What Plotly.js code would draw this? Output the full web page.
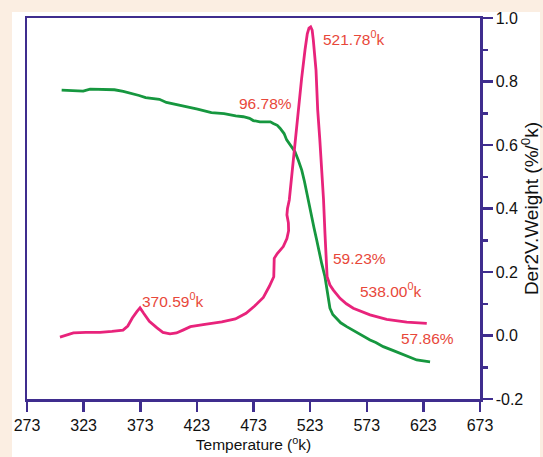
<!DOCTYPE html>
<html>
<head>
<meta charset="utf-8">
<script src="https://cdn.plot.ly/plotly-3.0.1.min.js"></script>
<style>
html,body{margin:0;padding:0;background:#fbeee2;}
#chart{width:543px;height:457px;}
</style>
</head>
<body>
<div id="chart"></div>
<script>
// Der2V.Weight curve (pink)
var derTemp = [302.1, 306, 314, 325, 337.5, 348, 357.8, 362, 366, 370, 372.8, 376, 381, 387.8, 393, 399.3, 405, 410.7, 417.3, 430, 445, 457, 466.4, 474, 481.7, 487, 490.9, 491.3, 494, 499.3, 502.5, 504, 503.8, 502.5, 503.0, 504.6, 508.5, 512, 515.5, 518.5, 520.5, 522, 523.5, 524.8, 525.8, 528.2, 529.7, 531.5, 533.2, 534.8, 536.1, 537.2, 538, 540.5, 543.5, 549.4, 555, 561.1, 568, 575.9, 590.6, 608.3, 626];
var derValue = [-0.005, 0.0, 0.008, 0.010, 0.010, 0.013, 0.017, 0.030, 0.055, 0.075, 0.087, 0.070, 0.045, 0.024, 0.010, 0.005, 0.008, 0.017, 0.028, 0.035, 0.043, 0.052, 0.070, 0.093, 0.120, 0.155, 0.185, 0.243, 0.258, 0.280, 0.305, 0.330, 0.355, 0.380, 0.400, 0.427, 0.570, 0.690, 0.810, 0.900, 0.950, 0.968, 0.972, 0.962, 0.931, 0.836, 0.710, 0.620, 0.532, 0.430, 0.322, 0.220, 0.185, 0.159, 0.143, 0.117, 0.100, 0.086, 0.075, 0.065, 0.051, 0.042, 0.038];

// Weight curve (green), drawn in the same axis units
var weightTemp = [303.6, 313, 322.6, 328.7, 340, 350.2, 358, 365.5, 372, 377.7, 389.9, 396.1, 410, 423.6, 435.8, 447, 457.3, 464, 469.5, 472.8, 478.7, 487.9, 490.5, 494, 496.4, 500, 502.3, 506, 509.6, 512.5, 515.6, 518, 520, 522, 524.4, 526.5, 528.8, 531, 533.2, 536.1, 537.6, 539, 540.5, 543, 546.5, 550, 555.3, 561, 567, 575.9, 581, 587.6, 596, 605.3, 617.1, 628.9];
var weightValue = [0.773, 0.771, 0.770, 0.776, 0.775, 0.774, 0.769, 0.763, 0.756, 0.749, 0.744, 0.734, 0.724, 0.713, 0.702, 0.699, 0.692, 0.689, 0.684, 0.677, 0.673, 0.673, 0.668, 0.662, 0.653, 0.636, 0.616, 0.596, 0.579, 0.553, 0.521, 0.485, 0.448, 0.410, 0.374, 0.338, 0.301, 0.262, 0.227, 0.185, 0.154, 0.115, 0.086, 0.066, 0.054, 0.040, 0.028, 0.016, 0.002, -0.014, -0.022, -0.035, -0.047, -0.061, -0.077, -0.083];

var xTickValues = [273, 323, 373, 423, 473, 523, 573, 623, 673];
var yTickValues = [-0.2, 0.0, 0.2, 0.4, 0.6, 0.8, 1.0];
var yTickLabels = ['-0.2', '0.0', '0.2', '0.4', '0.6', '0.8', '1.0'];

var noteTexts = ['521.78<sup>0</sup>k', '96.78%', '370.59<sup>0</sup>k', '59.23%', '538.00<sup>0</sup>k', '57.86%'];

var sans = 'Liberation Sans, Arial, sans-serif';
var frame = '#3f2d8e';
var noteColor = '#e8473a';

var traces = [
  {x: weightTemp, y: weightValue, mode: 'lines', line: {color: '#16973f', width: 2.8}, hoverinfo: 'skip'},
  {x: derTemp, y: derValue, mode: 'lines', line: {color: '#e8237b', width: 2.8}, hoverinfo: 'skip'}
];

var noteSpots = [
  {x: 532.6, y: 0.937, xanchor: 'left'},
  {x: 483.2, y: 0.732, xanchor: 'center'},
  {x: 401.9, y: 0.112, xanchor: 'center'},
  {x: 567, y: 0.244, xanchor: 'center'},
  {x: 594.4, y: 0.143, xanchor: 'center'},
  {x: 627, y: -0.008, xanchor: 'center'}
];

var annotations = noteTexts.map(function (t, i) {
  return {x: noteSpots[i].x, y: noteSpots[i].y, xref: 'x', yref: 'y', text: t,
    showarrow: false, xanchor: noteSpots[i].xanchor, yanchor: 'middle',
    font: {family: sans, size: 15.5, color: noteColor}};
});

var layout = {
  width: 543, height: 457,
  margin: {l: 27, r: 63, t: 18, b: 58, pad: 0},
  paper_bgcolor: '#ffffff',
  plot_bgcolor: '#ffffff',
  showlegend: false,
  xaxis: {
    range: [273, 673], tickvals: xTickValues, ticktext: xTickValues.map(String),
    ticks: 'outside', ticklen: 10, tickwidth: 2.5, tickcolor: frame,
    showline: true, linecolor: frame, linewidth: 2.5, mirror: true,
    showgrid: false, zeroline: false,
    tickfont: {family: sans, size: 16, color: '#111111'},
    title: {text: 'Temperature (<sup>o</sup>k)', font: {family: sans, size: 15.5, color: '#111111'}, standoff: 6}
  },
  yaxis: {
    range: [-0.2, 1.0], side: 'right', tickvals: yTickValues, ticktext: yTickLabels,
    ticks: 'outside', ticklen: 10, tickwidth: 2.5, tickcolor: frame,
    minor: {dtick: 0.1, tick0: 0, ticks: 'outside', ticklen: 5, tickwidth: 2.5, tickcolor: frame, showgrid: false},
    showline: true, linecolor: frame, linewidth: 2.5, mirror: true,
    showgrid: false, zeroline: false,
    tickfont: {family: sans, size: 16, color: '#111111'},
    title: {text: 'Der2V.Weight (%/<sup>0</sup>k)', font: {family: sans, size: 19, color: '#111111'}, standoff: 2}
  },
  shapes: [
    {type: 'rect', xref: 'paper', yref: 'paper', x0: -0.0596, x1: -0.0331, y0: -0.2, y1: 1.06, fillcolor: '#fbeee2', line: {width: 0}, layer: 'below'},
    {type: 'rect', xref: 'paper', yref: 'paper', x0: -0.0596, x1: 1.14, y0: 1.0157, y1: 1.06, fillcolor: '#fbeee2', line: {width: 0}, layer: 'below'},
    {type: 'rect', xref: 'paper', yref: 'paper', x0: 1.1325, x1: 1.14, y0: -0.2, y1: 1.06, fillcolor: '#fbeee2', line: {width: 0}, layer: 'below'}
  ],
  annotations: annotations
};

Plotly.newPlot('chart', traces, layout, {displayModeBar: false, staticPlot: true});
</script>
</body>
</html>
